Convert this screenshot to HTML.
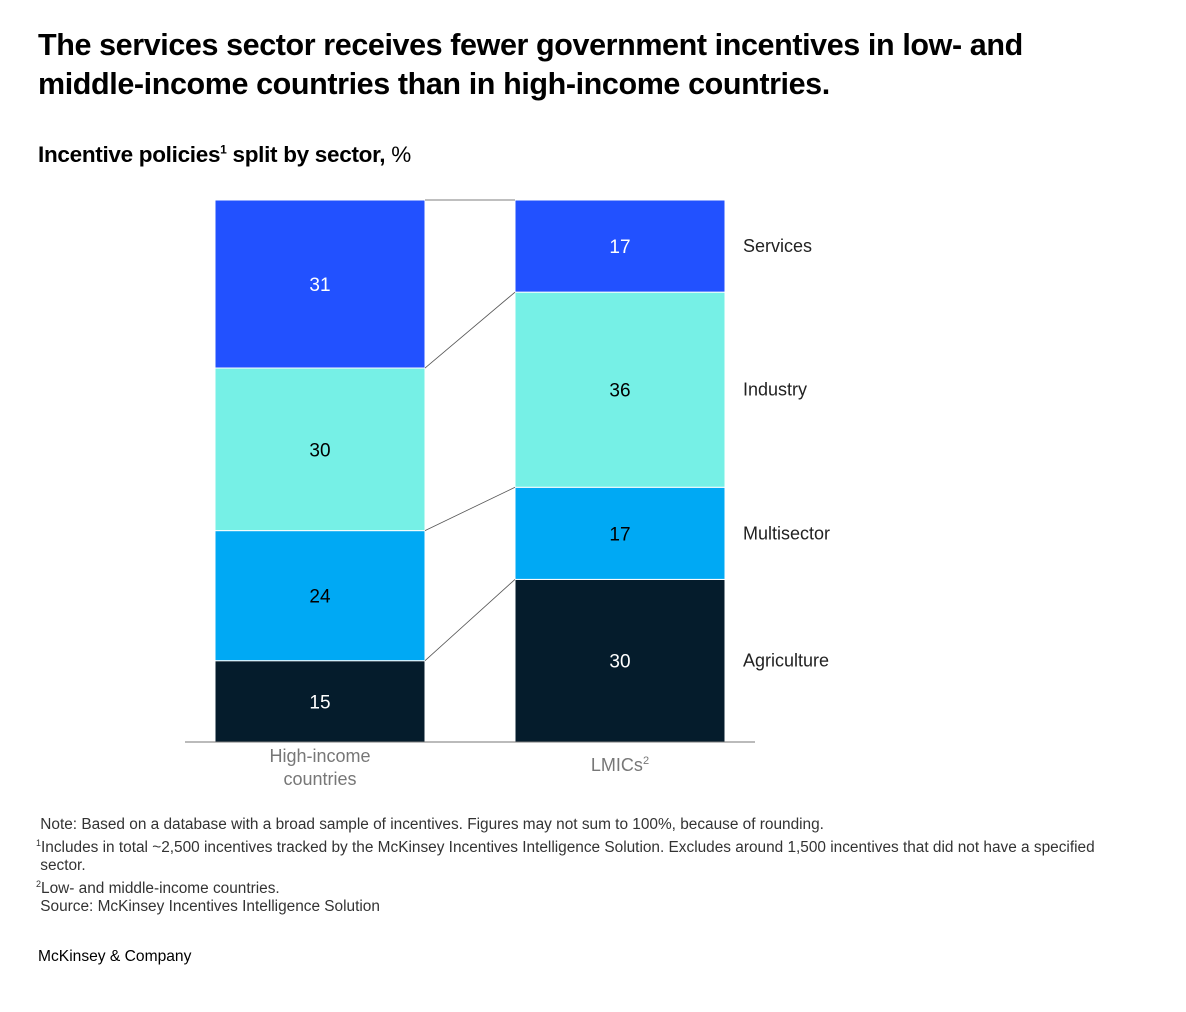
<!DOCTYPE html>
<html><head><meta charset="utf-8"><style>
body{margin:0;width:1186px;height:1012px;background:#fff;font-family:"Liberation Sans",Arial,sans-serif;position:relative;overflow:hidden}
.t{position:absolute;left:38px;top:26px;font-size:30.5px;font-weight:bold;line-height:39px;color:#000;letter-spacing:-0.4px;white-space:nowrap}
.st{position:absolute;left:38px;top:142px;font-size:22.5px;font-weight:bold;color:#000;letter-spacing:-0.3px}
.notes{position:absolute;left:36px;top:816px;font-size:15.4px;line-height:18px;color:#333;white-space:nowrap}
.brand{position:absolute;left:38px;top:948px;font-size:15.6px;color:#000}
</style></head><body>
<div class="t">The services sector receives fewer government incentives in low- and<br>middle-income countries than in high-income countries.</div>
<div class="st">Incentive policies<sup style="font-size:12px">1</sup> split by sector, <span style="font-weight:normal">%</span></div>
<svg id="chart" width="1186" height="1012" style="position:absolute;left:0;top:0"></svg>
<div class="notes">&nbsp;Note: Based on a database with a broad sample of incentives. Figures may not sum to 100%, because of rounding.<br><sup style="font-size:9px">1</sup>Includes in total ~2,500 incentives tracked by the McKinsey Incentives Intelligence Solution. Excludes around 1,500 incentives that did not have a specified<br>&nbsp;sector.<br><sup style="font-size:9px">2</sup>Low- and middle-income countries.<br>&nbsp;Source: McKinsey Incentives Intelligence Solution</div>
<div class="brand">McKinsey &amp; Company</div>
<script>
const categories=["High-income countries","LMICs"];
const sectors=["Agriculture","Multisector","Industry","Services"];
const agriculture=[15,30];
const multisector=[24,17];
const industry=[30,36];
const services=[31,17];
const colors=["#051c2c","#00a9f4","#76f0e6","#2251ff"];
const textColors=["#fff","#000","#000","#fff"];
const series=[agriculture,multisector,industry,services];
const NS="http://www.w3.org/2000/svg";
const svg=document.getElementById("chart");
const base=742,top0=200,barW=210,xs=[215,515];
function y(v,tot){return base-(v/tot)*(base-top0);}
function mk(tag,attrs){const e=document.createElementNS(NS,tag);for(const k in attrs)e.setAttribute(k,attrs[k]);svg.appendChild(e);return e;}
const bounds=[[],[]];
categories.forEach((c,i)=>{
  const tot=series.reduce((s,a)=>s+a[i],0);
  let cum=0;
  series.forEach((arr,j)=>{
    const y1=y(cum,tot),y2=y(cum+arr[i],tot);
    const r=mk("rect",{x:xs[i],y:y2,width:barW,height:y1-y2,fill:colors[j],stroke:"#fff","stroke-width":1});
    
    
    const t=mk("text",{x:xs[i]+barW/2,y:(y1+y2)/2+7,"text-anchor":"middle","font-size":19,fill:textColors[j]});
    t.textContent=arr[i];
    
    
    bounds[i].push(y2);
    if(i===1){
      const l=mk("text",{x:743,y:(y1+y2)/2+6,"font-size":18,fill:"#222"});
      l.textContent=sectors[j];
      
      
    }
    cum+=arr[i];
  });
});
for(let j=0;j<sectors.length;j++){
  const ln=mk("line",{x1:xs[0]+barW,y1:bounds[0][j],x2:xs[1],y2:bounds[1][j],stroke:"#555","stroke-width":0.8});
  
  
}
const ax=mk("line",{x1:185,y1:base,x2:755,y2:base,stroke:"#777","stroke-width":1});


const lab1=mk("text",{x:320,y:762,"text-anchor":"middle","font-size":18,fill:"#777"});
lab1.innerHTML='<tspan x="320">High-income</tspan><tspan x="320" dy="23">countries</tspan>';


const lab2=mk("text",{x:620,y:771,"text-anchor":"middle","font-size":18,fill:"#777"});
lab2.innerHTML='LMICs<tspan font-size="11" dy="-7">2</tspan>';


</script>
</body></html>
